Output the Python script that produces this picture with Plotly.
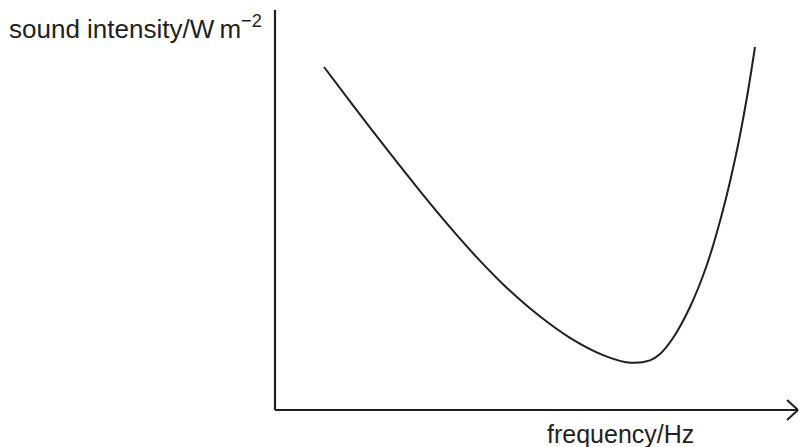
import plotly.graph_objects as go

# Curve values (arbitrary units; axes origin at 0,0)
frequency = [9.8, 15.6, 22.4, 29.0, 35.6, 40.6, 45.6, 52.4, 59.0, 65.6, 71.0, 75.0,
             77.0, 79.6, 83.0, 86.4, 89.6, 92.4, 94.4, 96.0]
intensity = [85.75, 76.18, 65.13, 54.73, 44.83, 37.83, 31.45, 23.98, 18.03, 13.73, 11.83, 12.4,
             14.0, 18.0, 25.75, 36.38, 50.0, 65.0, 78.25, 90.75]

y_title = "sound intensity/W\u2009m<sup>\u22122</sup>"
x_title = "frequency/Hz"

INK = "#231f20"
FONT = "Liberation Sans, Arial, sans-serif"

X_MIN, X_MAX = -55, 104.8
Y_MIN, Y_MAX = -9.25, 102.5
AX_TOP = 100
AX_RIGHT = 104.6

fig = go.Figure()
fig.add_trace(go.Scatter(
    x=frequency, y=intensity, mode="lines",
    line=dict(color=INK, width=2, shape="spline", smoothing=1.0),
    hoverinfo="skip", showlegend=False,
))

shapes = [
    dict(type="line", xref="x", yref="y", x0=0, y0=0, x1=0, y1=AX_TOP, line=dict(color=INK, width=2.2)),
    dict(type="line", xref="x", yref="y", x0=0, y0=0, x1=AX_RIGHT, y1=0, line=dict(color=INK, width=2.2)),
    dict(type="line", xref="x", yref="y", x0=AX_RIGHT - 2.2, y0=2.5, x1=AX_RIGHT, y1=0, line=dict(color=INK, width=2)),
    dict(type="line", xref="x", yref="y", x0=AX_RIGHT - 2.2, y0=-2.5, x1=AX_RIGHT, y1=0, line=dict(color=INK, width=2)),
]

annotations = [
    dict(text=y_title, xref="paper", yref="paper", x=7 / 799, y=1 - 27 / 447,
         xanchor="left", yanchor="middle", showarrow=False,
         font=dict(family=FONT, size=26, color=INK)),
    dict(text=x_title, xref="paper", yref="paper", x=545 / 799, y=1 - 434 / 447,
         xanchor="left", yanchor="middle", showarrow=False,
         font=dict(family=FONT, size=25, color=INK)),
]

fig.update_layout(
    width=799, height=447,
    margin=dict(l=0, r=0, t=0, b=0),
    paper_bgcolor="white", plot_bgcolor="white",
    xaxis=dict(range=[X_MIN, X_MAX], visible=False, domain=[0, 1]),
    yaxis=dict(range=[Y_MIN, Y_MAX], visible=False, domain=[0, 1]),
    shapes=shapes, annotations=annotations,
)

fig.write_html("out.html", config={"displayModeBar": False},
               post_script="document.body.style.margin='0';document.body.style.overflow='hidden';")
